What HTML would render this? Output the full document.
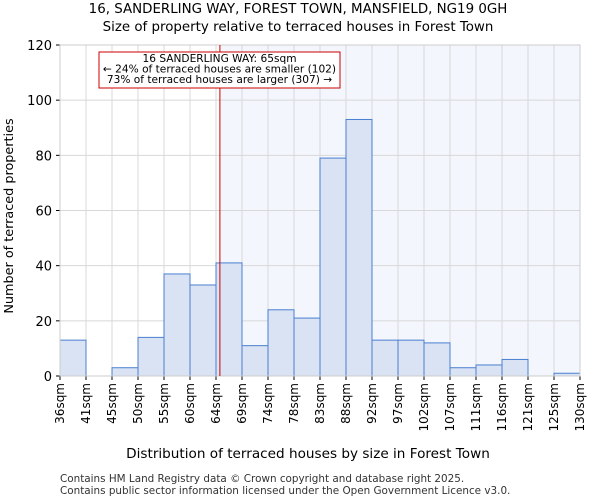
<!DOCTYPE html>
<html><head><meta charset="utf-8"><style>
body{margin:0;background:#fff;font-family:"DejaVu Sans","Liberation Sans",sans-serif;}
</style></head><body>
<svg width="600" height="500" xmlns="http://www.w3.org/2000/svg" font-family="DejaVu Sans, Liberation Sans, sans-serif">
<text x="298" y="13" text-anchor="middle" font-size="13.4">16, SANDERLING WAY, FOREST TOWN, MANSFIELD, NG19 0GH</text>
<text x="298" y="31" text-anchor="middle" font-size="13.4">Size of property relative to terraced houses in Forest Town</text>
<g id="plot"></g>
<text x="308" y="458" text-anchor="middle" font-size="13.6">Distribution of terraced houses by size in Forest Town</text>
<text transform="translate(13,216) rotate(-90)" text-anchor="middle" font-size="12.8">Number of terraced properties</text>
<text x="60" y="482" font-size="10.4" fill="#333">Contains HM Land Registry data © Crown copyright and database right 2025.</text>
<text x="60" y="494" font-size="10.4" fill="#333">Contains public sector information licensed under the Open Government Licence v3.0.</text>
</svg>
<script>
const categories=["36sqm","41sqm","45sqm","50sqm","55sqm","60sqm","64sqm","69sqm","74sqm","78sqm","83sqm","88sqm","92sqm","97sqm","102sqm","107sqm","111sqm","116sqm","121sqm","125sqm","130sqm"];
const values=[13,0,3,14,37,33,41,11,24,21,79,93,13,13,12,3,4,6,0,1];
const yTicks=[0,20,40,60,80,100,120];
const markerBin=6.15;
const NS="http://www.w3.org/2000/svg";
const g=document.getElementById('plot');
const L=60,R=580,T=45,B=376,yMax=120;
const bw=(R-L)/values.length;
const xs=i=>L+i*bw;
const ys=v=>B-(v/yMax)*(B-T);
function el(t,a,p){const e=document.createElementNS(NS,t);for(const k in a)e.setAttribute(k,a[k]);(p||g).appendChild(e);return e;}
const mx=xs(markerBin);
let e=el('rect',{x:mx,y:T,width:R-mx,height:B-T,fill:'#f3f6fd'});


for(let i=0;i<=values.length;i++){el('line',{x1:xs(i),x2:xs(i),y1:T,y2:B,stroke:'#d8d8d8'});}
yTicks.forEach(t=>{el('line',{x1:L,x2:R,y1:ys(t),y2:ys(t),stroke:'#d8d8d8'});
 const tx=el('text',{x:L-8,y:ys(t)+5,'text-anchor':'end','font-size':13});tx.textContent=t;
 
 
 el('line',{x1:L-4,x2:L,y1:ys(t),y2:ys(t),stroke:'#000'});});
values.forEach((v,i)=>{if(v<=0)return;
 const r=el('rect',{x:xs(i),y:ys(v),width:bw,height:B-ys(v),fill:'#dae3f3',stroke:'#4a7fd0','stroke-width':1});
 
 });
categories.forEach((c,i)=>{const x=xs(i);
 el('line',{x1:x,x2:x,y1:B,y2:B+4,stroke:'#000'});
 const t=el('text',{transform:`translate(${x+4},${B+7}) rotate(-90)`,'text-anchor':'end','font-size':12});t.textContent=c;
 
 });
el('rect',{x:L,y:T,width:R-L,height:B-T,fill:'none',stroke:'#ccc'});
const ml=el('line',{x1:mx,x2:mx,y1:T,y2:B,stroke:'#cc0000','stroke-width':1});


const box=el('rect',{x:99,y:52,width:241,height:36,fill:'#fff',stroke:'#cc0000'});


["16 SANDERLING WAY: 65sqm","← 24% of terraced houses are smaller (102)","73% of terraced houses are larger (307) →"].forEach((s,i)=>{
 const t=el('text',{x:219.5,y:62+i*10.5,'text-anchor':'middle','font-size':10.6});t.textContent=s;
 
 });
</script>
</body></html>
